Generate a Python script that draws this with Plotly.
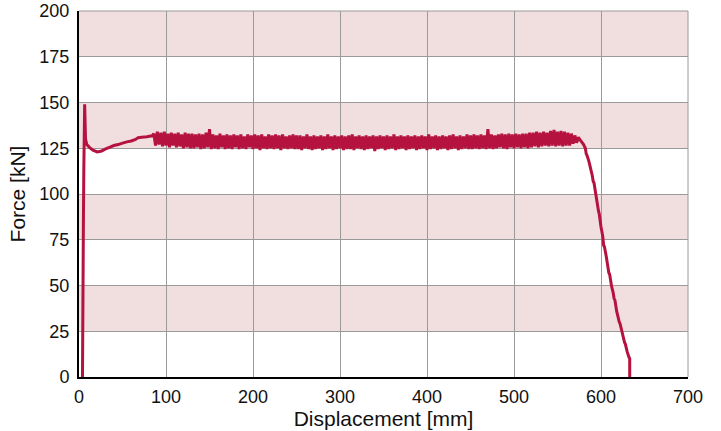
import plotly.graph_objects as go

# Initial peak and settling (Displacement mm, Force kN)
start_x = [4, 4.5, 5, 5.5, 6.5, 7.5, 9, 12, 16, 21, 26, 30, 35, 40, 45, 50, 55, 60, 65, 68, 72, 78, 84]
start_y = [0, 40, 80, 112, 149, 130, 127, 125.5, 124, 123, 123.5, 124.5, 125.5, 126.5, 127, 127.8, 128.5, 129, 129.8, 130.8, 131, 131.3, 131.8]

# Oscillating plateau, sampled every 2 mm from 86 to 574 mm
osc_x = list(range(86, 576, 2))
osc_y = [
    # 86-130
    133, 126.5, 134, 127, 133.5, 126, 134, 126.5, 133, 125.5, 133.5, 126.5, 133, 125.5, 133.5, 126,
    132.5, 125, 133.5, 125.5, 133, 125, 133,
    # 132-250
    125, 132.5, 125.5, 133, 124.5, 132.5, 125, 133.5, 125.5, 135.5,
    124.5, 132.5, 125, 132, 124.5, 133, 125.5, 132, 124.5, 132.5,
    125, 132, 124.5, 132.5, 125.5, 132, 124.5, 132.5, 125, 131.5,
    124.5, 132.5, 125.5, 132, 124.5, 132.5, 125, 132, 124, 132.5,
    125, 131.5, 124.5, 132.5, 125, 132, 124.5, 132.5, 125, 132,
    124, 132.5, 125, 131.5, 124.5, 132, 125, 132.5, 124.5, 132,
    # 252-450
    124.5, 132, 124, 131.5, 125, 132.5, 124.5, 131.5, 124, 132,
    124.5, 131.5, 125, 132, 124, 131.5, 124.5, 132.5, 125, 131.5,
    124, 132, 124.5, 131.5, 125, 132, 124, 131.5, 124.5, 132,
    124.5, 132.5, 124, 131.5, 125, 132, 124.5, 131.5, 124, 132,
    124.5, 131.5, 125, 132, 123.5, 131.5, 124.5, 132, 125, 131.5,
    124, 132, 124.5, 131.5, 125, 132.5, 124, 131.5, 124.5, 132,
    125, 131.5, 124, 132, 124.5, 131.5, 125, 132, 124, 131.5,
    124.5, 132, 125, 131.5, 124, 132.5, 124.5, 131.5, 125, 132,
    124, 131.5, 124.5, 132, 125, 131.5, 124, 132, 124.5, 132.5,
    125, 131.5, 124, 132, 124.5, 131.5, 125, 132.5, 124.5, 132,
    # 452-520
    124.5, 132.5, 125, 132, 124.5, 132.5, 125, 132, 124.5, 135.5,
    125, 132.5, 124.5, 132, 125, 132.5, 125.5, 133, 125, 132.5,
    124.5, 133, 125.5, 132.5, 125, 133, 125.5, 132.5, 125, 133,
    125.5, 133, 125, 133.5, 125.5,
    # 522-566
    133.5, 126, 134, 125.5, 133.5, 126, 134, 126.5, 133.5, 126,
    134.5, 126.5, 135, 126, 134, 126.5, 134.5, 126, 134, 126.5,
    133.5, 126.5, 133,
    # 568-574
    127.5, 132, 128, 131,
]

# Final collapse (slightly stepped, as in the measurement)
drop_x = [576, 580, 582, 583, 584, 586, 587, 588, 590, 591, 592, 594, 596, 597, 598, 600, 602, 603,
          604, 606, 608, 609, 610, 612, 614, 615, 616, 618, 620, 621, 622, 624, 626, 627, 628, 630,
          632, 633, 633]
drop_y = [129.5, 127, 125, 122, 121, 118, 116, 114, 110, 107, 106, 100, 94, 91, 89, 82, 77, 72,
          71, 66, 60, 57, 56, 50, 46, 43, 42, 36, 32, 30, 29, 25, 21, 19, 18, 14, 11, 10, 0]

x_ticks = [0, 100, 200, 300, 400, 500, 600, 700]
y_ticks = [0, 25, 50, 75, 100, 125, 150, 175, 200]
bands = [(25, 50), (75, 100), (125, 150), (175, 200)]

x = start_x + osc_x + drop_x
y = start_y + osc_y + drop_y

fig = go.Figure()
fig.add_trace(go.Scatter(x=x, y=y, mode="lines",
                         line=dict(color="#B5123F", width=3, simplify=False), hoverinfo="skip"))

for lo, hi in bands:
    fig.add_shape(type="rect", xref="paper", yref="y", x0=0, x1=1, y0=lo, y1=hi,
                  fillcolor="#F1DEDE", line=dict(width=0), layer="below")

font = "Liberation Sans, Arial, Helvetica, sans-serif"
fig.update_layout(
    width=721, height=431,
    margin=dict(l=79, r=33, t=11, b=54),
    plot_bgcolor="white", paper_bgcolor="white",
    showlegend=False,
    font=dict(family=font, color="#111", size=18),
)
fig.update_xaxes(range=[0, 700], tickvals=x_ticks, ticktext=[str(v) for v in x_ticks],
                 showgrid=True, gridcolor="#9a9a9a", gridwidth=1, automargin=False,
                 showline=True, linecolor="black", linewidth=2, zeroline=False,
                 ticks="outside", ticklen=2, tickcolor="rgba(0,0,0,0)",
                 title=dict(text="Displacement [mm]", font=dict(size=21), standoff=3),
                 tickfont=dict(size=18))
fig.update_yaxes(range=[0, 200], tickvals=y_ticks, ticktext=[str(v) for v in y_ticks],
                 showgrid=True, gridcolor="#9a9a9a", gridwidth=1, automargin=False,
                 showline=True, linecolor="black", linewidth=2, zeroline=False,
                 ticks="outside", ticklen=4, tickcolor="rgba(0,0,0,0)",
                 title=dict(text="Force [kN]", font=dict(size=21), standoff=8),
                 tickfont=dict(size=18))
# right and top border lines (gray like grid)
fig.add_shape(type="line", xref="paper", yref="paper", x0=1, x1=1, y0=0, y1=1,
              line=dict(color="#9a9a9a", width=1))
fig.add_shape(type="line", xref="paper", yref="paper", x0=0, x1=1, y0=1, y1=1,
              line=dict(color="#9a9a9a", width=1))

# remove the browser's default 8px body margin so the figure fills the window exactly
fig.write_html("out.html", config={"displayModeBar": False},
               post_script="document.body.style.margin='0';")
